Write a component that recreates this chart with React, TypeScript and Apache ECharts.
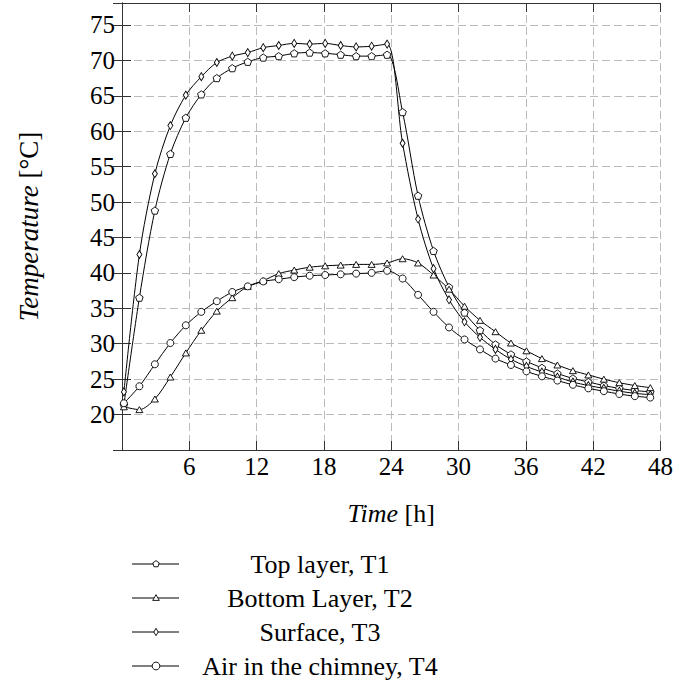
import React, { useEffect, useRef } from 'react';
import * as echarts from 'echarts';

// Time in hours
const time = [0.17, 1.55, 2.93, 4.31, 5.69, 7.07, 8.45, 9.83, 11.21, 12.59, 13.97, 15.35, 16.73, 18.11, 19.49, 20.87, 22.25, 23.63, 25.01, 26.39, 27.77, 29.15, 30.53, 31.91, 33.29, 34.67, 36.05, 37.43, 38.81, 40.19, 41.57, 42.95, 44.33, 45.71, 47.09];

// Top layer, T1
const topLayer = [21.4, 36.5, 48.8, 56.8, 61.9, 65.2, 67.5, 68.9, 69.8, 70.4, 70.6, 71.0, 71.1, 71.0, 70.8, 70.6, 70.6, 70.8, 62.7, 50.9, 43.1, 38.0, 34.4, 31.9, 29.9, 28.5, 27.5, 26.6, 25.8, 25.1, 24.6, 24.1, 23.7, 23.4, 23.2];
// Bottom Layer, T2
const bottomLayer = [21.1, 20.7, 22.2, 25.3, 28.7, 31.9, 34.6, 36.5, 38.1, 38.9, 39.9, 40.4, 40.8, 41.0, 41.1, 41.2, 41.2, 41.4, 42.0, 41.4, 39.7, 37.7, 35.3, 33.3, 31.7, 30.1, 29.0, 27.9, 27.0, 26.2, 25.6, 25.0, 24.5, 24.1, 23.8];
// Surface, T3
const surface = [23.2, 42.6, 54.0, 60.8, 65.1, 67.7, 69.7, 70.6, 71.1, 71.8, 72.1, 72.4, 72.3, 72.4, 72.1, 71.9, 72.0, 72.3, 58.3, 47.6, 40.6, 36.2, 33.1, 30.9, 29.2, 27.8, 26.8, 26.0, 25.3, 24.6, 24.1, 23.7, 23.3, 23.0, 22.8];
// Air in the chimney, T4
const airChimney = [21.6, 24.0, 27.1, 30.1, 32.6, 34.5, 36.0, 37.3, 38.1, 38.8, 39.1, 39.4, 39.6, 39.7, 39.8, 39.9, 40.0, 40.3, 39.2, 36.9, 34.5, 32.3, 30.6, 29.2, 27.9, 27.0, 26.1, 25.4, 24.8, 24.2, 23.7, 23.3, 22.9, 22.6, 22.4];

const seriesNames = ['Top layer, T1', 'Bottom Layer, T2', 'Surface, T3', 'Air in the chimney, T4'];

const FONT = 'Liberation Serif';
const PENTAGON = 'path://M0,-1 L0.951,-0.309 L0.588,0.809 L-0.588,0.809 L-0.951,-0.309 Z';

function pentagonPoints(cx: number, cy: number, r: number) {
  const pts: number[][] = [];
  for (let i = 0; i < 5; i++) {
    const a = -Math.PI / 2 + (i * 2 * Math.PI) / 5;
    pts.push([cx + r * Math.cos(a), cy + r * Math.sin(a)]);
  }
  return pts;
}

export default function App() {
  const ref = useRef<HTMLDivElement>(null);
  useEffect(() => {
    const chart = echarts.init(ref.current!, undefined, { renderer: 'svg' });
    const toPairs = (ys: number[]) => time.map((t, i) => [t, ys[i]]);
    const lineStyle = { color: '#000', width: 1 };
    const itemStyle = { color: '#fff', borderColor: '#000', borderWidth: 0.9 };
    const mkSeries = (name: string, ys: number[], symbol: string, symbolSize: any) => ({
      name,
      type: 'line',
      data: toPairs(ys),
      smooth: 0.3,
      symbol,
      symbolSize,
      showAllSymbol: true,
      lineStyle,
      itemStyle,
      xAxisIndex: 0,
      yAxisIndex: 0,
    });

    const tickStyle = { show: true, inside: true, length: 9, lineStyle: { color: '#333', width: 1 } };
    const axisLine = { show: true, lineStyle: { color: '#333', width: 1 } };
    const splitLine = { show: true, lineStyle: { color: '#bbb', width: 1, type: [8, 4] } };

    const legendRows = [564, 598, 632, 666];
    const legendX = 156;
    const graphics: any[] = [];
    legendRows.forEach((y, i) => {
      graphics.push({ type: 'line', shape: { x1: 132, y1: y, x2: 179, y2: y }, style: { stroke: '#000', lineWidth: 1 } });
      const st = { fill: '#fff', stroke: '#000', lineWidth: 0.9 };
      if (i === 0) graphics.push({ type: 'polygon', shape: { points: pentagonPoints(legendX, y, 3.4) }, style: st });
      if (i === 1) graphics.push({ type: 'polygon', shape: { points: [[legendX, y - 3.3], [legendX + 3.3, y + 2.4], [legendX - 3.3, y + 2.4]] }, style: st });
      if (i === 2) graphics.push({ type: 'polygon', shape: { points: [[legendX, y - 3.7], [legendX + 2.2, y], [legendX, y + 3.7], [legendX - 2.2, y]] }, style: st });
      if (i === 3) graphics.push({ type: 'circle', shape: { cx: legendX, cy: y, r: 3.9 }, style: st });
      graphics.push({
        type: 'text',
        x: 320,
        y,
        style: { text: seriesNames[i], font: `26px "${FONT}"`, fill: '#000', textAlign: 'center', textVerticalAlign: 'middle' },
      });
    });

    const option: any = {
      animation: false,
      backgroundColor: '#fff',
      textStyle: { fontFamily: FONT },
      grid: { left: 122, right: 14, top: 3, bottom: 233, containLabel: false },
      xAxis: [
        {
          type: 'value',
          min: 0,
          max: 48,
          interval: 6,
          position: 'bottom',
          axisLine,
          axisTick: tickStyle,
          splitLine,
          axisLabel: {
            color: '#000',
            fontSize: 25,
            fontFamily: FONT,
            margin: 4,
            formatter: (v: number) => (v > 0 && v <= 48 ? String(v) : ''),
          },
          name: '{i|Time} [h]',
          nameLocation: 'middle',
          nameGap: 50,
          nameTextStyle: {
            color: '#000',
            fontSize: 26,
            fontFamily: FONT,
            rich: { i: { fontStyle: 'italic', fontSize: 26, fontFamily: FONT, color: '#000' } },
          },
        },
        {
          type: 'value',
          min: 0,
          max: 48,
          interval: 6,
          position: 'top',
          axisLine,
          axisTick: tickStyle,
          splitLine: { show: false },
          axisLabel: { show: false },
        },
      ],
      yAxis: [
        {
          type: 'value',
          min: 15,
          max: 78.1,
          interval: 5,
          position: 'left',
          axisLine,
          axisTick: tickStyle,
          splitLine,
          axisLabel: {
            color: '#000',
            fontSize: 25,
            fontFamily: FONT,
            margin: 7,
            showMinLabel: false,
            showMaxLabel: false,
            formatter: (v: number) => (v >= 20 && v <= 75 && v % 5 === 0 ? String(v) : ''),
          },
          name: '{i|Temperature} [°C]',
          nameLocation: 'middle',
          nameGap: 80,
          nameRotate: 90,
          nameTextStyle: {
            color: '#000',
            fontSize: 27,
            fontFamily: FONT,
            rich: { i: { fontStyle: 'italic', fontSize: 27, fontFamily: FONT, color: '#000' } },
          },
        },
        {
          type: 'value',
          min: 15,
          max: 78.1,
          interval: 5,
          position: 'right',
          axisLine,
          axisTick: tickStyle,
          splitLine: { show: false },
          axisLabel: { show: false },
        },
      ],
      series: [
        mkSeries(seriesNames[0], topLayer, PENTAGON, [7.5, 7.2]),
        mkSeries(seriesNames[1], bottomLayer, 'triangle', [7, 6]),
        mkSeries(seriesNames[2], surface, 'diamond', [5, 8]),
        mkSeries(seriesNames[3], airChimney, 'circle', 7),
      ],
      graphic: graphics,
    };
    chart.setOption(option);
    return () => chart.dispose();
  }, []);
  return <div ref={ref} style={{ position: 'fixed', left: 0, top: 0, width: 676, height: 683 }} />;
}
